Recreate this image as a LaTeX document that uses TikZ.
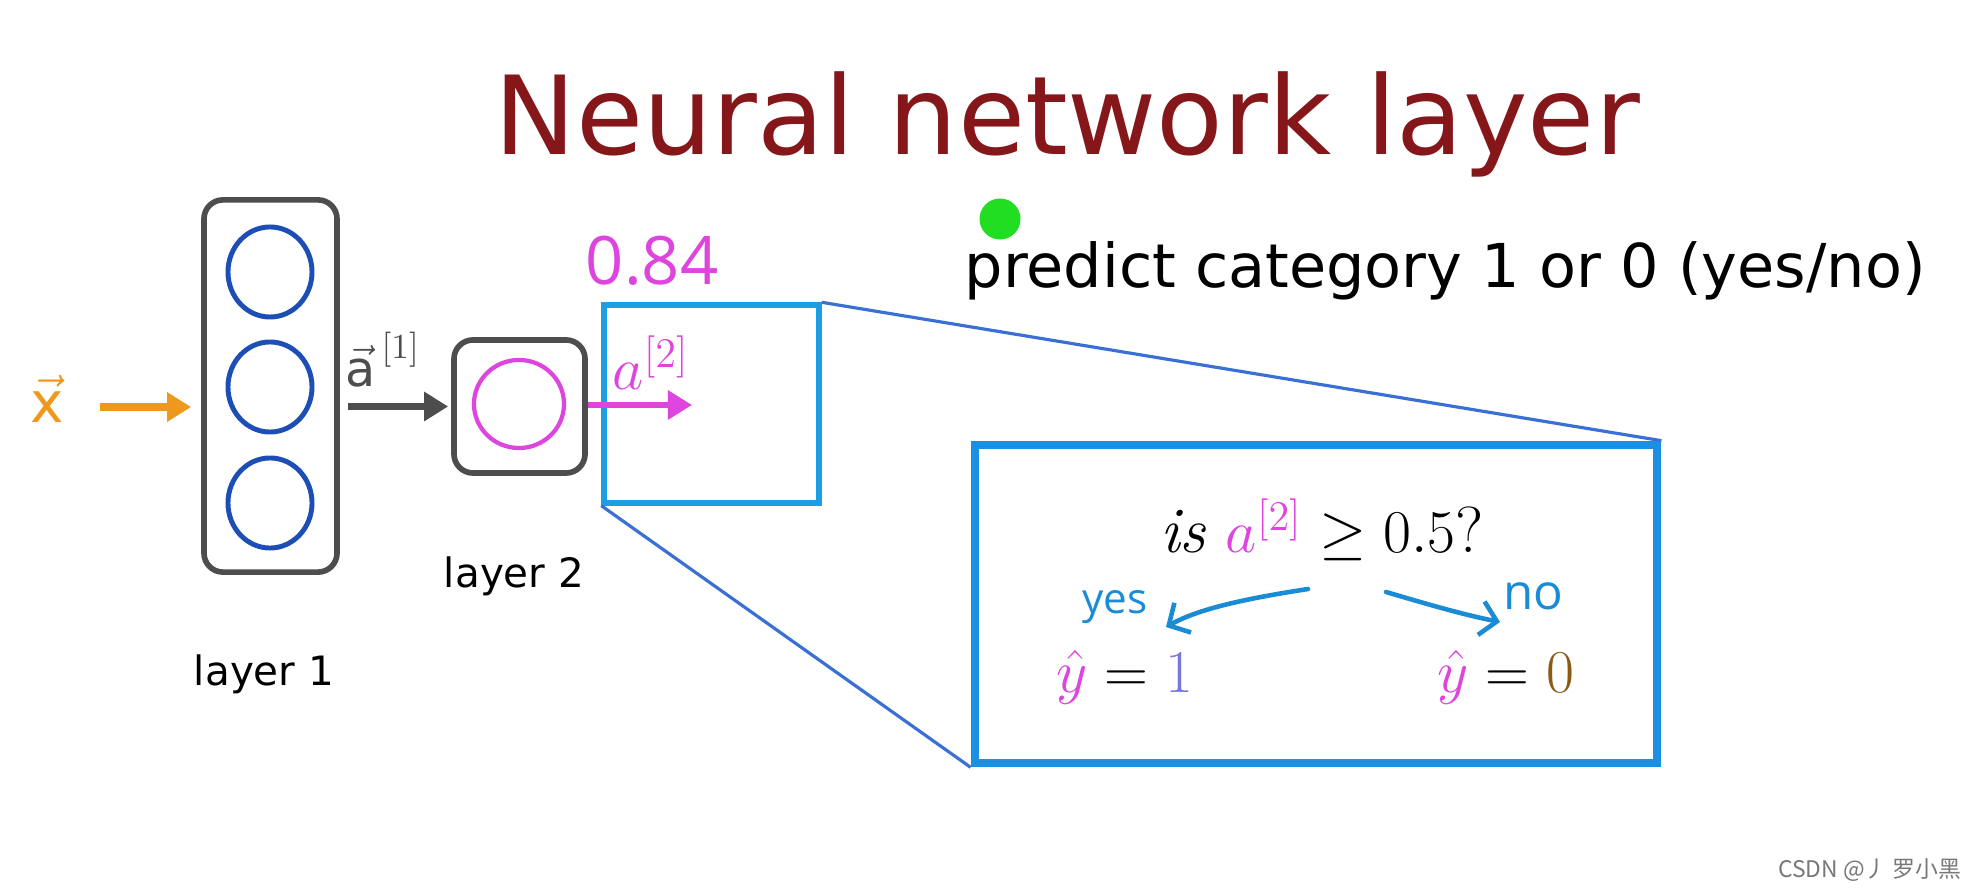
\documentclass[tikz,border=0pt]{standalone}
\usepackage{amsmath}
\usepackage{fontspec}
\setsansfont{DejaVu Sans}
\newfontfamily\djv{DejaVu Sans}
\newfontfamily\handfont{Open Sans}
\newfontfamily\cjkfont{Noto Sans CJK SC}
\usetikzlibrary{arrows.meta,shapes.geometric}
\definecolor{titlered}{RGB}{133,22,26}
\definecolor{boxgray}{RGB}{77,77,77}
\definecolor{nblue}{RGB}{28,78,182}
\definecolor{norange}{RGB}{238,152,30}
\definecolor{nmag}{RGB}{222,68,222}
\definecolor{cyanrect}{RGB}{27,158,226}
\definecolor{bigrect}{RGB}{27,143,227}
\definecolor{zoomline}{RGB}{58,112,212}
\definecolor{ngreen}{RGB}{34,222,34}
\definecolor{handblue}{RGB}{26,140,214}
\definecolor{oneblue}{RGB}{118,118,222}
\definecolor{zerobrown}{RGB}{140,90,20}
\definecolor{wmgray}{RGB}{120,120,120}
\begin{document}
\begin{tikzpicture}[x=0.01cm,y=-0.01cm,
  graybox/.style={draw=boxgray, line width=1.6pt, rounded corners=0.19cm, inner sep=0pt},
  bluecirc/.style={ellipse, draw=nblue, line width=1.4pt, minimum width=0.84cm, minimum height=0.9cm, inner sep=0pt},
  thickarrow/.style={line width=2.1pt, -{Triangle[length=0.24cm,width=0.28cm]}},
  handarrow/.style={draw=handblue, line width=1.3pt, line cap=round, -{Straight Barb[length=0.16cm,width=0.34cm]}},
  sanstext/.style={inner sep=0pt, font=\djv},
]
\useasboundingbox[fill=white] (0,0) rectangle (1979,892);

% title
\node[sanstext, anchor=base west, text=titlered, font=\djv\fontsize{31}{36}\selectfont] (title) at (494,155) {Neural network layer};

% layer 1
\node[graybox, minimum width=1.33cm, minimum height=3.72cm] (l1) at (270.5,386) {};
\node[bluecirc] (c1) at (270,272) {};
\node[bluecirc] (c2) at (270,387) {};
\node[bluecirc] (c3) at (270,503) {};
\node[sanstext, anchor=base, font=\djv\fontsize{11.5}{14}\selectfont] (lab1) at (264,686) {layer 1};

% layer 2
\node[graybox, minimum width=1.31cm, minimum height=1.33cm] (l2) at (519.5,406.5) {};
\node[ellipse, draw=nmag, line width=1.2pt, minimum width=0.9cm, minimum height=0.88cm, inner sep=0pt] (c4) at (519,404) {};
\node[sanstext, anchor=base, font=\djv\fontsize{11.5}{14}\selectfont] (lab2) at (514,588) {layer 2};

% input x
\node[inner sep=0pt, anchor=base, text=norange, font=\fontsize{16}{18}\selectfont] (x) at (47,423) {$\vec{\text{\djv x}}$};
\coordinate (xs) at (100,407);
\draw[thickarrow, draw=norange, fill=norange, shorten >=0.1cm] (xs) -- (l1.west |- xs);

% a1
\node[inner sep=0pt, anchor=base west, text=boxgray, font=\fontsize{14}{16}\selectfont] (a1) at (345,387) {$\vec{\text{\djv a}}^{\,[1]}$};
\draw[thickarrow, draw=boxgray, fill=boxgray, shorten <=0.08cm, shorten >=0.03cm] (l1.east |- l2.west) -- (l2.west);

% zoom rectangles
\node[draw=cyanrect, line width=1.5pt, minimum width=2.15cm, minimum height=1.98cm, inner sep=0pt] (sr) at (711.5,404) {};
\node[draw=bigrect, line width=2.4pt, minimum width=6.82cm, minimum height=3.18cm, inner sep=0pt] (br) at (1316,604) {};
\draw[zoomline, line width=0.9pt] (sr.north east) -- (br.north east);
\draw[zoomline, line width=0.9pt] (sr.south west) -- (br.south west);

% output a2
\coordinate (ae) at (692,405);
\draw[thickarrow, draw=nmag, fill=nmag, line width=1.8pt] (l2.east |- ae) -- (ae);
\node[inner sep=0pt, anchor=base west, text=nmag, font=\fontsize{18}{20}\selectfont] (a2) at (612,390) {$a^{[2]}$};
\node[inner sep=0pt, anchor=base, text=nmag, font=\handfont\fontsize{19}{22}\selectfont] (val) at (652,285) {0.84};

% green dot and predict text
\node[circle, fill=ngreen, minimum size=0.41cm, inner sep=0pt] (dot) at (1000,219) {};
\node[sanstext, anchor=base west, font=\djv\fontsize{17.2}{20}\selectfont] (pred) at (964,288) {predict category 1 or 0 (yes/no)};

% inside big rect
\node[inner sep=0pt, anchor=base, font=\fontsize{18.5}{21}\selectfont] (q) at (1322,553) {\textit{is} $\textcolor{nmag}{a^{[2]}} \geq 0.5$?};
\node[inner sep=0pt, anchor=base, font=\fontsize{18.2}{21}\selectfont] (y1) at (1125,693) {$\textcolor{nmag}{\hat{y}} = \textcolor{oneblue}{1}$};
\node[inner sep=0pt, anchor=base, font=\fontsize{18.2}{21}\selectfont] (y0) at (1506,693) {$\textcolor{nmag}{\hat{y}} = \textcolor{zerobrown}{0}$};
\node[inner sep=0pt, anchor=base, text=handblue, font=\handfont\fontsize{12}{14}\selectfont] (yes) at (1115,614) {yes};
\node[inner sep=0pt, anchor=base, text=handblue, font=\handfont\fontsize{14}{16}\selectfont] (no) at (1533,610) {no};
\coordinate (ys) at (1308,589);
\coordinate (ye) at (1166,627);
\draw[handarrow] (ys) .. controls (1250,598) and (1200,608) .. (ye);
\coordinate (ns) at (1386,592);
\coordinate (ne) at (1500,622);
\draw[handarrow] (ns) .. controls (1420,602) and (1460,614) .. (ne);

% watermark
\node[inner sep=0pt, anchor=base east, text=wmgray, font=\cjkfont\fontsize{6.5}{8}\selectfont] (wm) at (1962,878) {CSDN @丿 罗小黑};
\end{tikzpicture}
\end{document}
